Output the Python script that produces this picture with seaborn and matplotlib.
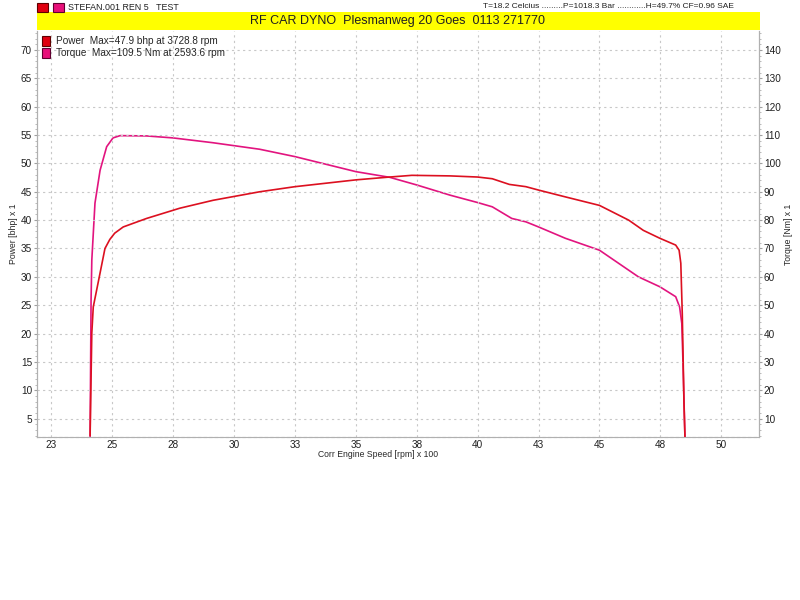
import matplotlib
matplotlib.use("Agg")
import matplotlib.pyplot as plt
from matplotlib.patches import Rectangle, Patch
from matplotlib.ticker import MultipleLocator
import seaborn as sns
import pandas as pd

# Power curve (rpm x 100, bhp)
power_rpm = [24.09, 24.16, 24.22, 24.5, 24.7, 24.9, 25.1, 25.45, 26.41, 27.77, 29.14,
             31.05, 32.5, 35.0, 36.39, 37.3, 38.87, 40.0, 40.6, 41.3, 41.98, 42.5,
             43.6, 45.0, 46.2, 46.8, 47.48, 48.13, 48.27, 48.34, 48.40, 48.47, 48.51]
power_bhp = [2.0, 20.1, 24.7, 30.7, 35.0, 36.6, 37.7, 38.8, 40.3, 42.1, 43.5,
             45.0, 45.9, 47.1, 47.6, 47.9, 47.8, 47.6, 47.3, 46.3, 45.9, 45.3,
             44.1, 42.6, 40.0, 38.2, 36.8, 35.6, 34.7, 32.4, 23.5, 7.7, 1.8]

# Torque curve (rpm x 100, Nm)
torque_rpm = [24.09, 24.13, 24.16, 24.29, 24.5, 24.77, 25.03, 25.32, 26.4, 27.49, 29.13,
              31.05, 32.5, 35.0, 36.39, 37.5, 38.87, 40.0, 40.6, 41.4, 41.98, 42.5,
              43.6, 45.0, 45.8, 46.6, 47.48, 48.13, 48.29, 48.38, 48.43, 48.51]
torque_nm = [3.6, 52.0, 65.9, 86.0, 97.6, 105.9, 109.0, 109.8, 109.7, 109.0, 107.3,
             105.0, 102.4, 97.1, 95.1, 92.4, 88.8, 86.2, 84.7, 80.6, 79.4, 77.6,
             73.6, 69.4, 64.7, 60.0, 56.5, 53.0, 49.4, 43.6, 29.6, 3.6]

x_ticks = [22.5, 25, 27.5, 30, 32.5, 35, 37.5, 40, 42.5, 45, 47.5, 50]
x_tick_labels = ["23", "25", "28", "30", "33", "35", "38", "40", "43", "45", "48", "50"]
power_ticks = list(range(5, 75, 5))
torque_ticks = list(range(10, 150, 10))

power_color = "#dc1020"
torque_color = "#e2147f"
grid_color = "#c8c8c8"

sns.set_style("white")
plt.rcParams["font.family"] = ["Liberation Sans", "DejaVu Sans"]

fig = plt.figure(figsize=(8, 6), dpi=100)
ax = fig.add_axes([37 / 800, 1 - 437 / 600, 722 / 800, 406 / 600])
ax2 = ax.twinx()

df_p = pd.DataFrame({"rpm": power_rpm, "val": power_bhp})
df_t = pd.DataFrame({"rpm": torque_rpm, "val": torque_nm})
sns.lineplot(data=df_p, x="rpm", y="val", ax=ax, color=power_color, lw=1.2,
             sort=False, estimator=None)
sns.lineplot(data=df_t, x="rpm", y="val", ax=ax2, color=torque_color, lw=1.2,
             sort=False, estimator=None)

ax.set_xlim(21.91, 51.55)
ax.set_ylim(1.76, 73.35)
ax2.set_ylim(3.52, 146.7)

ax.set_xticks(x_ticks)
ax.set_xticklabels(x_tick_labels)
ax.set_yticks(power_ticks)
ax2.set_yticks(torque_ticks)
ax.yaxis.set_minor_locator(MultipleLocator(1))
ax2.yaxis.set_minor_locator(MultipleLocator(2))

for a in (ax, ax2):
    a.tick_params(axis="both", which="major", labelsize=7.2, length=2,
                  color="#a0a0a0", pad=1.5, labelcolor="#202020")
    a.tick_params(axis="both", which="minor", length=1.5, color="#b0b0b0")
    for s in a.spines.values():
        s.set_color("#b0b0b0")
        s.set_linewidth(0.8)
    a.spines["top"].set_visible(False)
ax.spines["bottom"].set_linestyle((0, (2, 3)))
ax.tick_params(axis="x", which="both", length=0, pad=2.5)

ax.grid(True, which="major", color=grid_color, linestyle=(0, (2, 3)), lw=0.8)
ax2.grid(False)
ax.set_zorder(ax2.get_zorder() + 1)
ax.patch.set_visible(False)

ax.set_xlabel("Corr Engine Speed [rpm] x 100", fontsize=6.2)
ax.xaxis.set_label_coords(0.473, -0.031)
ax.set_ylabel("Power [bhp] x 1", fontsize=6.2, labelpad=2)
ax2.set_ylabel("Torque [Nm] x 1", fontsize=6.2, labelpad=2)

handles = [Patch(facecolor="#e00010", edgecolor="#600000", lw=0.8),
           Patch(facecolor="#e8107a", edgecolor="#600030", lw=0.8)]
labels = ["Power  Max=47.9 bhp at 3728.8 rpm", "Torque  Max=109.5 Nm at 2593.6 rpm"]
ax.legend(handles, labels, loc="upper left", bbox_to_anchor=(0.0, 1.0), frameon=False,
          fontsize=7.2, handlelength=0.8, handleheight=1.1, handletextpad=0.6,
          labelspacing=0.2, borderaxespad=0.3, borderpad=0.2)

# header: yellow banner and info line
fig.add_artist(Rectangle((37 / 800, 1 - 30 / 600), 723 / 800, 18 / 600,
                         transform=fig.transFigure, facecolor="#ffff00", edgecolor="none"))
fig.text(398 / 800, 1 - 21 / 600, "RF CAR DYNO  Plesmanweg 20 Goes  0113 271770",
         ha="center", va="center", fontsize=9, color="#202020")
fig.add_artist(Rectangle((37 / 800, 1 - 12 / 600), 11 / 800, 9 / 600,
                         transform=fig.transFigure, facecolor="#e00010", edgecolor="#600000", lw=0.8))
fig.add_artist(Rectangle((53 / 800, 1 - 12 / 600), 11 / 800, 9 / 600,
                         transform=fig.transFigure, facecolor="#e8107a", edgecolor="#600030", lw=0.8))
fig.text(68 / 800, 1 - 7.5 / 600, "STEFAN.001 REN 5   TEST", ha="left", va="center",
         fontsize=6.4, color="#202020")
fig.text(483 / 800, 1 - 6.5 / 600,
         "T=18.2 Celcius .........P=1018.3 Bar ............H=49.7% CF=0.96 SAE",
         ha="left", va="center", fontsize=6.0, color="#202020")

fig.savefig("out.png", dpi=100)
